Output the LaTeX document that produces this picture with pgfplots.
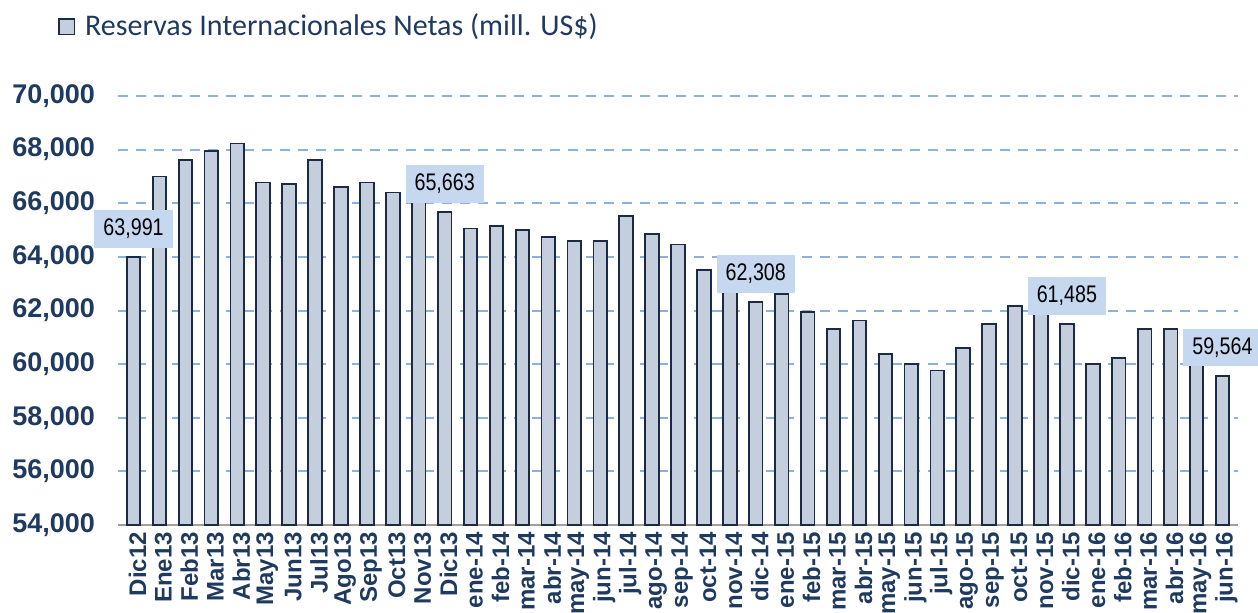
\documentclass[border=0pt]{standalone}
\usepackage{fontspec}
\setmainfont{Liberation Sans}
\newfontfamily\narrowfont{Liberation Sans}[FakeStretch=0.82]
\newfontfamily\legendfont{Carlito}
\usepackage{pgfplots}
\pgfplotsset{compat=1.18}

\definecolor{barfill}{HTML}{C5CEDD}
\definecolor{bardark}{HTML}{1C2B45}
\definecolor{gridblue}{HTML}{8DB0E0}
\definecolor{labelfill}{HTML}{C6D8F0}
\definecolor{navy}{HTML}{1F3A60}

\begin{document}
\begin{tikzpicture}
\begin{axis}[
  scale only axis,
  width=560pt, height=214.5pt,
  xmin=-0.6, xmax=42.6,
  ymin=54000, ymax=70000,
  ytick={54000,56000,...,70000},
  scaled y ticks=false,
  /pgf/number format/.cd, 1000 sep={,}, assume math mode=true,
  /pgfplots/.cd,
  xtick={0,...,42},
  xticklabels={Dic12,Ene13,Feb13,Mar13,Abr13,May13,Jun13,Jul13,Ago13,Sep13,Oct13,Nov13,Dic13,
    ene-14,feb-14,mar-14,abr-14,may-14,jun-14,jul-14,ago-14,sep-14,oct-14,nov-14,dic-14,
    ene-15,feb-15,mar-15,abr-15,may-15,jun-15,jul-15,ago-15,sep-15,oct-15,nov-15,dic-15,
    ene-16,feb-16,mar-16,abr-16,may-16,jun-16},
  xticklabel style={rotate=90, anchor=east, font=\bfseries\fontsize{12}{12}\selectfont,
    text=navy, yshift=-2pt},
  yticklabel style={font=\bfseries\fontsize{13.5}{14}\selectfont, text=navy, xshift=-8pt},
  axis x line*=bottom, axis y line*=left,
  y axis line style={draw=none},
  x axis line style={draw=gray!75, line width=1.3pt},
  major tick length=0pt,
  ymajorgrids,
  grid style={gridblue, line width=1pt, dash pattern=on 5pt off 4pt},
  clip=false,
  legend style={at={(rel axis cs:-0.0536,1.162)}, anchor=west, draw=none, fill=none,
    inner sep=0pt, font=\legendfont\fontsize{15}{15}\selectfont, text=navy},
  legend cell align=left,
]
\addplot[ybar, bar shift=0pt, bar width=6.8pt, fill=barfill, draw=bardark, line width=0.9pt,
  legend image code/.code={\draw[fill=barfill, draw=bardark, line width=0.8pt] (0pt,-3.9pt) rectangle (7.6pt,3.9pt);
    \path[draw=none, fill=none] (0pt,0pt) -- (11pt,0pt);}]
  coordinates {
  (0,63991) (1,67000) (2,67626) (3,67938) (4,68226) (5,66775) (6,66714) (7,67626)
  (8,66613) (9,66775) (10,66400) (11,66250) (12,65663)
  (13,65062) (14,65149) (15,65000) (16,64750) (17,64600) (18,64600) (19,65537)
  (20,64850) (21,64465) (22,63525) (23,62900) (24,62308)
  (25,62612) (26,61937) (27,61312) (28,61625) (29,60387) (30,59990) (31,59760)
  (32,60612) (33,61487) (34,62162) (35,62000) (36,61485)
  (37,59990) (38,60225) (39,61312) (40,61312) (41,60100) (42,59564)
  };
\addlegendentry{Reservas Internacionales Netas (mill. US\$)}
\addplot[ybar, bar shift=0pt, bar width=6.8pt, draw=none, fill=none, forget plot,
  nodes near coords,
  nodes near coords style={font=\narrowfont\fontsize{12}{12}\selectfont, text=black,
    fill=labelfill, inner xsep=4.5pt, inner ysep=4.5pt, anchor=south, yshift=4.5pt}]
  coordinates {(0,63991) (12,65663) (24,62308) (36,61485) (42,59564)};
\coordinate (bl) at (rel axis cs:-0.10536,-0.2051);
\coordinate (tr) at (rel axis cs:1.01786,1.2238);
\end{axis}
\pgfresetboundingbox
\path[use as bounding box] (bl) rectangle (tr);
\end{tikzpicture}
\end{document}
